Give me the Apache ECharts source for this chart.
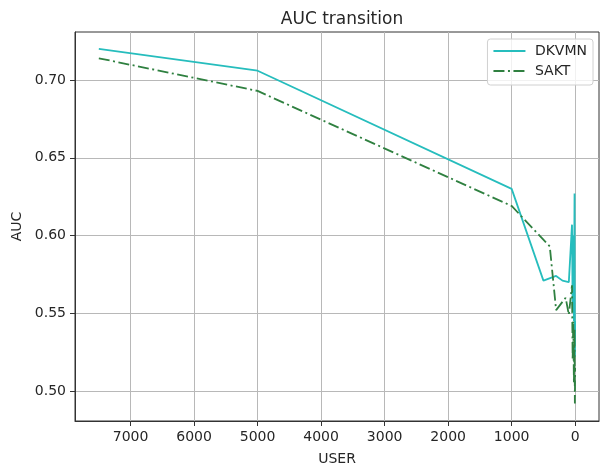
<!DOCTYPE html>
<html>
<head>
<meta charset="utf-8">
<script src="https://cdn.jsdelivr.net/npm/echarts@6/dist/echarts.min.js"></script>
<style>html,body{margin:0;padding:0;background:#fff}#c{width:603px;height:466px}</style>
</head>
<body>
<div id="c"></div>
<script>
const users = [7500, 5000, 1000, 500, 300, 200, 100, 50, 40, 30, 20, 10, 5, 1];
const dkvmn = [0.720, 0.706, 0.630, 0.571, 0.574, 0.571, 0.570, 0.607, 0.555, 0.600, 0.545, 0.627, 0.522, 0.545];
const saktUsers = [7500, 5000, 1000, 400, 300, 150, 100, 50, 40, 30, 20, 10, 5, 1];
const sakt = [0.714, 0.693, 0.619, 0.593, 0.552, 0.560, 0.549, 0.568, 0.520, 0.545, 0.505, 0.540, 0.492, 0.515];
const xTicks = [7000, 6000, 5000, 4000, 3000, 2000, 1000, 0];
const yTicks = [0.50, 0.55, 0.60, 0.65, 0.70];

const font = 'DejaVu Sans';
const txt = '#262626';
const chart = echarts.init(document.getElementById('c'), null, {renderer: 'canvas'});
chart.setOption({
  animation: false,
  backgroundColor: '#fff',
  title: {
    text: 'AUC transition', left: 337, top: 6, textAlign: 'center',
    textStyle: {fontFamily: font, fontSize: 17, fontWeight: 'normal', color: txt}
  },
  grid: {left: 75, right: 4, top: 32, bottom: 45, outerBoundsMode: 'none', containLabel: false,
    show: true, borderColor: '#333', borderWidth: 1, backgroundColor: 'transparent'},
  legend: {
    orient: 'vertical', right: 10, top: 39, itemWidth: 32, itemHeight: 14, itemGap: 6,
    padding: [5, 6, 7, 5], borderColor: '#d0d0d0', borderWidth: 1, borderRadius: 3,
    backgroundColor: 'rgba(255,255,255,0.8)',
    itemStyle: {color: 'transparent', borderWidth: 0},
    formatter: n => ' ' + n,
    textStyle: {fontFamily: font, fontSize: 14, color: txt},
    data: ['DKVMN', 'SAKT']
  },
  xAxis: {
    type: 'value', inverse: true, min: -375, max: 7875,
    name: 'USER', nameLocation: 'middle', nameGap: 31,
    nameTextStyle: {fontFamily: font, fontSize: 14, color: txt},
    axisLine: {show: true, onZero: false, lineStyle: {color: '#333'}},
    axisTick: {show: true, length: 5, lineStyle: {color: '#333'}, customValues: xTicks},
    axisLabel: {fontFamily: font, fontSize: 14, color: txt, margin: 9, customValues: xTicks,
      formatter: v => String(v)},
    splitLine: {show: true, lineStyle: {color: '#b8b8b8', width: 1}}
  },
  yAxis: {
    type: 'value', min: 0.4807, max: 0.7309,
    name: 'AUC', nameLocation: 'middle', nameGap: 47, nameRotate: 90,
    nameTextStyle: {fontFamily: font, fontSize: 14, color: txt},
    axisLine: {show: true, onZero: false, lineStyle: {color: '#333'}},
    axisTick: {show: true, length: 5, lineStyle: {color: '#333'}, customValues: yTicks},
    axisLabel: {fontFamily: font, fontSize: 14, color: txt, margin: 9, customValues: yTicks,
      formatter: v => v.toFixed(2)},
    splitLine: {show: true, lineStyle: {color: '#b8b8b8', width: 1}}
  },
  series: [
    {
      name: 'DKVMN', type: 'line', symbol: 'none',
      data: users.map((u, i) => [u, dkvmn[i]]),
      lineStyle: {color: '#26bdbd', width: 1.8},
      itemStyle: {color: '#26bdbd'}
    },
    {
      name: 'SAKT', type: 'line', symbol: 'none',
      data: saktUsers.map((u, i) => [u, sakt[i]]),
      lineStyle: {color: '#2f8040', width: 1.8, type: [11, 3.5, 2, 3.5]},
      itemStyle: {color: '#2f8040'}
    }
  ]
});
</script>
</body>
</html>
